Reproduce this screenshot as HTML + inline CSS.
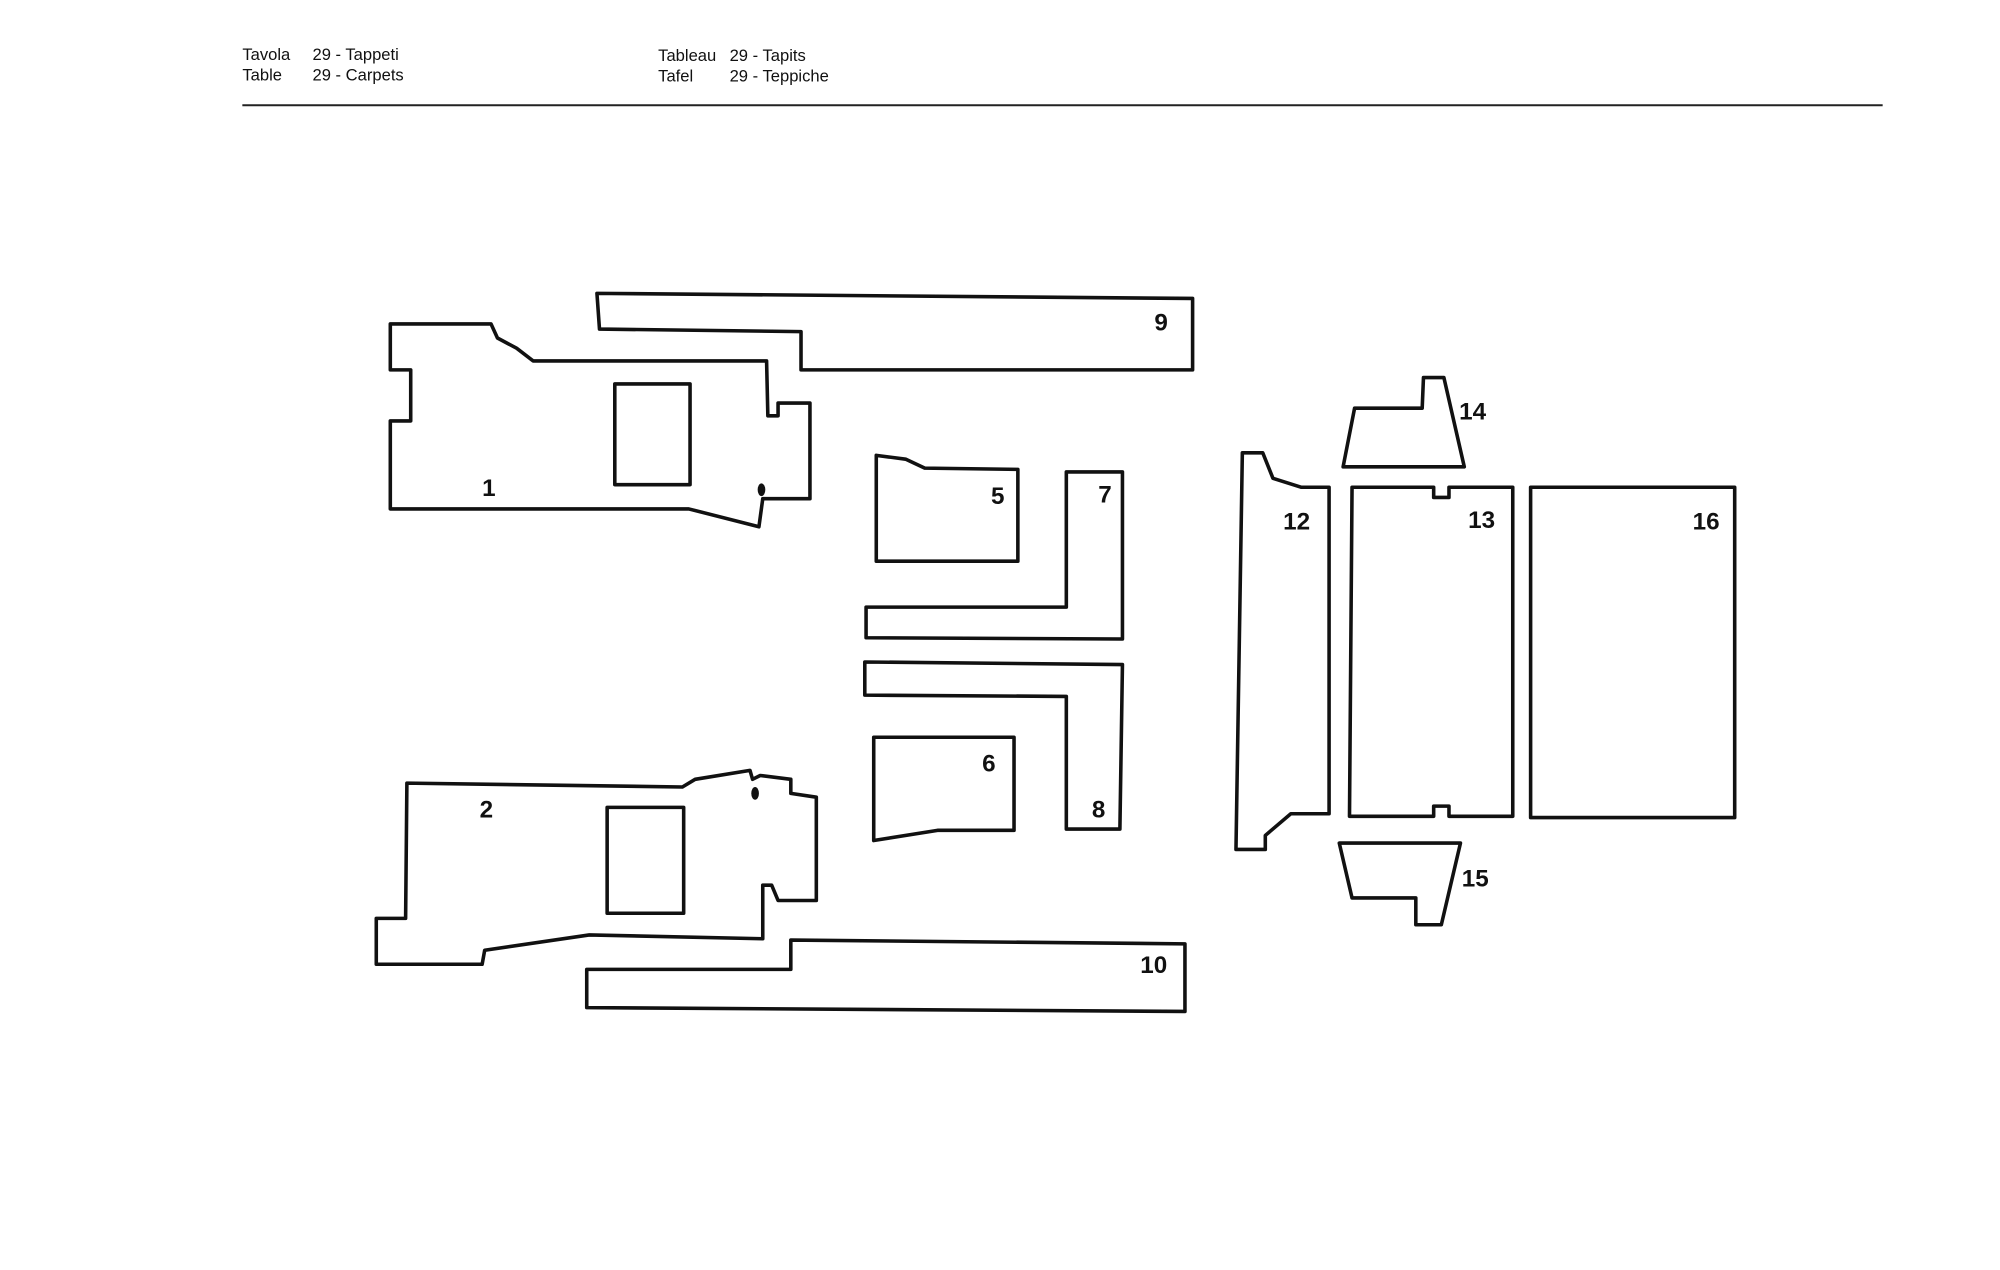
<!DOCTYPE html>
<html><head><meta charset="utf-8"><style>
html,body{margin:0;padding:0;background:#fff;}
svg{display:block}
.h{font-family:"Liberation Sans",sans-serif;font-size:13px;fill:#111}
.n{font-family:"Liberation Sans",sans-serif;font-weight:bold;font-size:19px;fill:#111}
</style></head><body>
<svg width="2000" height="1270" viewBox="0 0 1568 995.7" preserveAspectRatio="none" xmlns="http://www.w3.org/2000/svg">
<rect width="1568" height="996" fill="#fff"/>
<text class="h" x="190" y="47">Tavola</text><text class="h" x="245" y="47">29 - Tappeti</text>
<text class="h" x="190" y="63">Table</text><text class="h" x="245" y="63">29 - Carpets</text>
<text class="h" x="516" y="48">Tableau</text><text class="h" x="572" y="48">29 - Tapits</text>
<text class="h" x="516" y="64">Tafel</text><text class="h" x="572" y="64">29 - Teppiche</text>
<line x1="190" y1="82.5" x2="1476" y2="82.5" stroke="#222" stroke-width="1.6"/>
<g fill="none" stroke="#111" stroke-width="2.8" stroke-linejoin="round">
<polygon points="306,254 385,254 390,265 405,273 418,283 601,283 602,326 610,326 610,316 635,316 635,391 598,391 595,413 540,399 306,399 306,330 322,330 322,290 306,290"/>
<rect x="482" y="301" width="59" height="79"/>
<polygon points="468,230 935,234 935,290 628,290 628,260 470,258"/>
<polygon points="319,614 535,617 545,611 588,604 590,611 596,608 620,611 620,622 640,625 640,706 610,706 605,694 598,694 598,736 462,733 380,745 378,756 295,756 295,720 318,720"/>
<rect x="476" y="633" width="60" height="83"/>
<polygon points="460,760 620,760 620,737 929,740 929,793 460,790"/>
<polygon points="687,357 710,360 725,367 798,368 798,440 687,440"/>
<polygon points="685,578 795,578 795,651 735,651 685,659"/>
<polygon points="836,370 880,370 880,501 679,500 679,476 836,476"/>
<polygon points="678,519 880,521 878,650 836,650 836,546 678,545"/>
<polygon points="974,355 990,355 998,375 1020,382 1042,382 1042,638 1012,638 992,655 992,666 969,666"/>
<polygon points="1060,382 1124,382 1124,390 1136,390 1136,382 1186,382 1186,640 1136,640 1136,632 1124,632 1124,640 1058,640"/>
<rect x="1200" y="382" width="160" height="259"/>
<polygon points="1062,320 1115,320 1116,296 1132,296 1148,366 1053,366"/>
<polygon points="1050,661 1145,661 1130,725 1110,725 1110,704 1060,704"/>
</g>
<ellipse cx="597" cy="384" rx="3" ry="5" fill="#111"/>
<ellipse cx="592" cy="622" rx="3" ry="5" fill="#111"/>
<text class="n" x="378" y="389">1</text>
<text class="n" x="376" y="641">2</text>
<text class="n" x="777" y="395">5</text>
<text class="n" x="770" y="605">6</text>
<text class="n" x="861" y="394">7</text>
<text class="n" x="856" y="641">8</text>
<text class="n" x="905" y="259">9</text>
<text class="n" x="894" y="763">10</text>
<text class="n" x="1006" y="415">12</text>
<text class="n" x="1151" y="414">13</text>
<text class="n" x="1144" y="329">14</text>
<text class="n" x="1146" y="695">15</text>
<text class="n" x="1327" y="415">16</text>
</svg>
</body></html>
